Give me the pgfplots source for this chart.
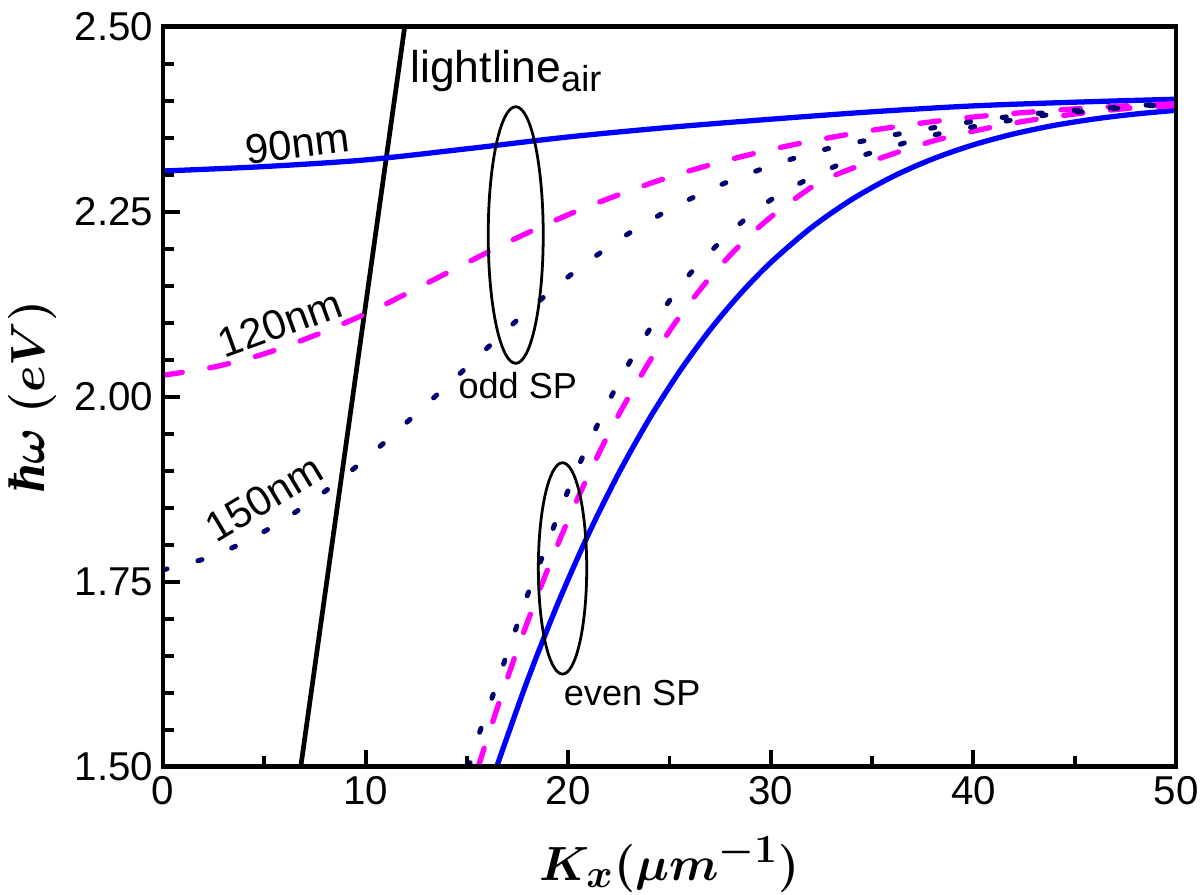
\documentclass[border=0pt]{standalone}
\usepackage{pgfplots}
\pgfplotsset{compat=1.18}
\usepackage{fontspec}
\setmainfont{Liberation Sans}
\newfontfamily\labfont{Liberation Serif}
\usepackage{bm}

\definecolor{cblue}{RGB}{0,0,255}
\definecolor{cmag}{RGB}{255,0,255}
\definecolor{cnavy}{RGB}{0,0,110}

\begin{document}
\begin{tikzpicture}
\begin{axis}[
  scale only axis, width=364.68pt, height=266.4pt,
  xmin=0, xmax=50, ymin=1.5, ymax=2.5,
  xtick={0,10,20,30,40,50}, minor x tick num=1,
  ytick={1.5,1.75,2,2.25,2.5}, minor y tick num=4,
  tick pos=left, tick align=inside,
  major tick length=6pt, minor tick length=4pt,
  every tick/.append style={black, line width=1.4pt},
  axis line style={line width=1.7pt},
  axis on top,
  /pgf/number format/assume math mode=true,
  ticklabel style={font=\fontsize{14.5}{16}\selectfont},
  yticklabel style={/pgf/number format/fixed, /pgf/number format/fixed zerofill, /pgf/number format/precision=2},
  xlabel={$\bm{K_x(\mu m^{-1})}$},
  ylabel={\mbox{\labfont\bfseries\itshape ħ}$\bm{\omega\ (eV)}$},
  xlabel style={at={(axis description cs:0.5,-0.1324)}, anchor=center, font=\fontsize{19}{21}\selectfont},
  ylabel style={at={(axis description cs:-0.129,0.5)}, anchor=center, font=\fontsize{18.5}{20}\selectfont},
]
\coordinate (sw) at (rel axis cs:0,0);
\coordinate (ne) at (rel axis cs:1,1);

% light line in air
\addplot[black, line width=1.7pt] coordinates {(6.80,1.5) (11.93,2.5)};

% 90 nm: odd and even
\addplot[cblue, line width=1.9pt, smooth] coordinates {
(0,2.305) (5,2.311) (10,2.320) (15,2.335) (20,2.351) (25,2.364) (30,2.375) (35,2.385) (40,2.393) (45,2.398) (50,2.402)};
\addplot[cblue, line width=1.9pt, smooth] coordinates {
(16.47,1.5) (18,1.6175) (19.5,1.7213) (21,1.8143) (22.5,1.8969) (24,1.970) (25.5,2.0342) (27,2.0904) (28.5,2.1392) (30,2.1814) (32,2.2285) (34,2.2666) (36,2.2972) (38,2.3214) (40,2.3404) (42,2.3552) (44,2.3667) (46,2.3754) (48,2.382) (50,2.387)};

% 120 nm: odd and even
\addplot[cmag, line width=1.9pt, line cap=round, dash pattern=on 7pt off 10pt, smooth] coordinates {
(0,2.029) (2.5,2.040) (5,2.058) (7.5,2.083) (10,2.112) (12.5,2.146) (15,2.181) (17.5,2.215) (20,2.246) (22.5,2.273) (25,2.297) (27.5,2.317) (30,2.334) (32.5,2.348) (35,2.360) (37.5,2.370) (40,2.378) (42.5,2.384) (45,2.389) (47.5,2.393) (50,2.396)};
\addplot[cmag, line width=1.9pt, line cap=round, dash pattern=on 7pt off 10pt, smooth] coordinates {
(15.56,1.5) (16.5,1.5795) (17.5,1.6588) (18.5,1.7327) (19.5,1.8012) (20.5,1.8645) (21.5,1.9227) (22.5,1.976) (24,2.0471) (25.5,2.1085) (27,2.161) (28.5,2.2055) (30,2.2428) (32,2.2829) (33.4,2.302) (35.9,2.327) (38.2,2.347) (40.7,2.363) (42.9,2.374) (45.3,2.383) (48.2,2.391) (50,2.393)};

% 150 nm: odd and even
\addplot[cnavy, line width=1.8pt, line cap=round, dash pattern=on 1.5pt off 11.5pt, smooth] coordinates {
(0,1.766) (2.5,1.785) (5,1.818) (7.5,1.862) (10,1.916) (12.5,1.977) (15,2.040) (17.5,2.104) (20,2.162) (22.5,2.212) (25,2.253) (27.5,2.286) (30,2.312) (32.5,2.333) (35,2.348) (37.5,2.361) (40,2.372) (42.5,2.381) (45,2.387) (47.5,2.392) (50,2.397)};
\addplot[cnavy, line width=1.8pt, line cap=round, dash pattern=on 1.5pt off 11.5pt, smooth] coordinates {
(15.1,1.5) (15.56,1.541) (16.06,1.579) (16.55,1.618) (17.05,1.658) (17.54,1.696) (18.03,1.735) (18.6,1.775) (19.13,1.813) (19.67,1.851) (20.25,1.890) (20.9,1.930) (21.57,1.969) (22.27,2.008) (23.04,2.047) (23.9,2.086) (24.85,2.124) (25.85,2.161) (27.17,2.200) (28.57,2.236) (30.0,2.266) (31.4,2.288) (32.9,2.308) (34.3,2.324) (35.8,2.336) (37.2,2.348) (38.6,2.357) (40.03,2.365) (41.5,2.372) (42.9,2.378) (44.3,2.383) (45.8,2.386) (47.2,2.390) (48.6,2.393) (50,2.395)};

% annotations
\draw[black, line width=1pt] (axis cs:17.41,2.2185) ellipse [x radius=1.357, y radius=0.1734];
\draw[black, line width=1pt] (axis cs:19.72,1.768) ellipse [x radius=1.194, y radius=0.1428];
\node[anchor=base west, inner sep=0pt, font=\fontsize{16}{18}\selectfont] at (axis cs:12.19,2.424) {lightline\raisebox{-3pt}{\fontsize{13}{14}\selectfont air}};
\node[rotate=7, font=\fontsize{15}{17}\selectfont] at (axis cs:6.64,2.342) {90nm};
\node[rotate=20, font=\fontsize{15}{17}\selectfont] at (axis cs:5.77,2.099) {120nm};
\node[rotate=31, font=\fontsize{15}{17}\selectfont] at (axis cs:4.99,1.863) {150nm};
\node[anchor=base west, inner sep=0pt, font=\fontsize{13}{15}\selectfont] at (axis cs:14.56,1.998) {odd SP};
\node[anchor=base west, inner sep=0pt, font=\fontsize{13}{15}\selectfont] at (axis cs:19.76,1.583) {even SP};
\end{axis}
\pgfresetboundingbox
\path[use as bounding box] ([xshift=-58.68pt,yshift=-45.83pt]sw) rectangle ([xshift=8.64pt,yshift=9.61pt]ne);
\end{tikzpicture}
\end{document}
